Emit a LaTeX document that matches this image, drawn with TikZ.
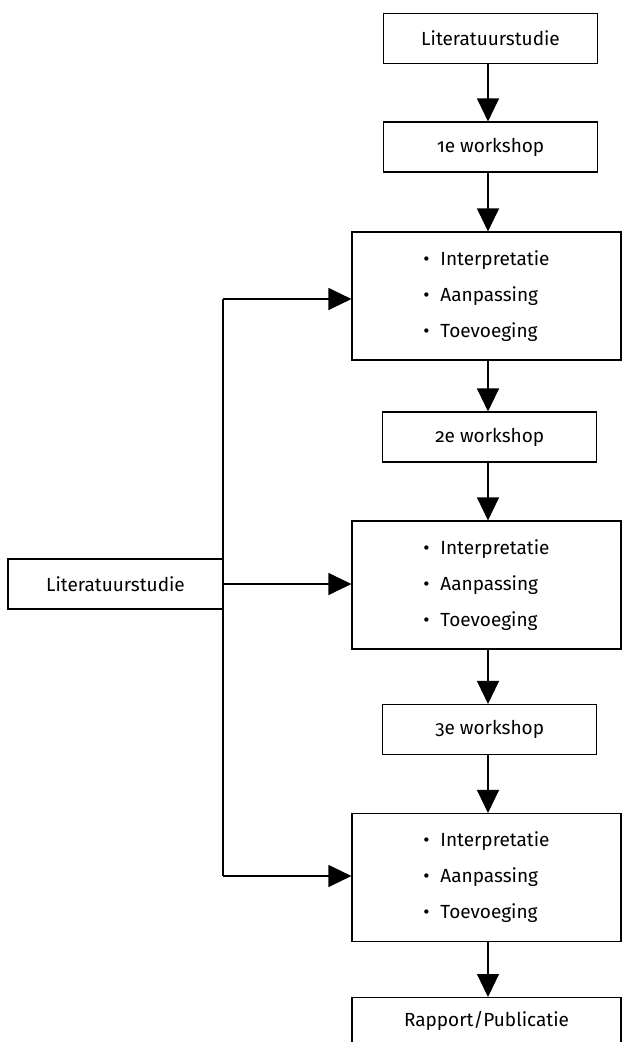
\documentclass[tikz,border=0pt]{standalone}
\usepackage{fontspec}
\setmainfont{Fira Sans}[Numbers=OldStyle]
\usetikzlibrary{arrows.meta,positioning,calc}
\begin{document}
\begin{tikzpicture}[x=1pt,y=-1pt,
  box/.style={draw,line width=1.1pt,inner sep=0pt,font=\fontsize{19}{36}\selectfont},
  smallbox/.style={box,minimum width=214pt,minimum height=50pt},
  bigbox/.style={box,minimum width=269pt,minimum height=128pt,align=left},
  arr/.style={line width=1.1pt,-{Triangle[length=23pt,width=22pt]}},
  plain/.style={line width=1.1pt}]
\useasboundingbox (0,0) rectangle (622,1042);
\clip (0,0) rectangle (622,1042);
\newcommand{\bitem}[1]{\makebox[17pt][l]{•}#1}
\coordinate (axis) at (488,0);
\node[smallbox] (lit1) at (490.5,38.5) {Literatuurstudie};
\node[smallbox] (ws1) at (490.5,147) {1e workshop};
\node[bigbox] (big1) at (486.5,296) {\bitem{Interpretatie}\\\bitem{Aanpassing}\\\bitem{Toevoeging}};
\node[smallbox] (ws2) at (489.7,437) {2e workshop};
\node[bigbox] (big2) at (486.5,585) {\bitem{Interpretatie}\\\bitem{Aanpassing}\\\bitem{Toevoeging}};
\node[smallbox] (ws3) at (489.7,729.5) {3e workshop};
\node[bigbox] (big3) at (486.5,877.5) {\bitem{Interpretatie}\\\bitem{Aanpassing}\\\bitem{Toevoeging}};
\node[box,minimum width=269pt,minimum height=80pt,anchor=north] (rap) at (486.5,997) {};
\node[font=\fontsize{19}{22}\selectfont] (raptext) at (486.5,1021) {Rapport/Publicatie};
\node[smallbox,minimum width=215pt] (lit0) at (115.5,584) {Literatuurstudie};
% vertical chain
\draw[arr] (lit1.south -| axis) -- (ws1.north -| axis);
\draw[arr] (ws1.south -| axis) -- (big1.north -| axis);
\draw[arr] (big1.south -| axis) -- (ws2.north -| axis);
\draw[arr] (ws2.south -| axis) -- (big2.north -| axis);
\draw[arr] (big2.south -| axis) -- (ws3.north -| axis);
\draw[arr] (ws3.south -| axis) -- (big3.north -| axis);
\draw[arr] (big3.south -| axis) -- (rap.north -| axis);
% side feed
\coordinate (jtop) at (223,299);
\coordinate (jbot) at (223,876);
\draw[plain] (jtop) -- (jbot);
\draw[arr] (jtop) -- (jtop -| big1.west);
\draw[arr] (lit0.east) -- (lit0.east -| big2.west);
\draw[arr] (jbot) -- (jbot -| big3.west);
\end{tikzpicture}
\end{document}
